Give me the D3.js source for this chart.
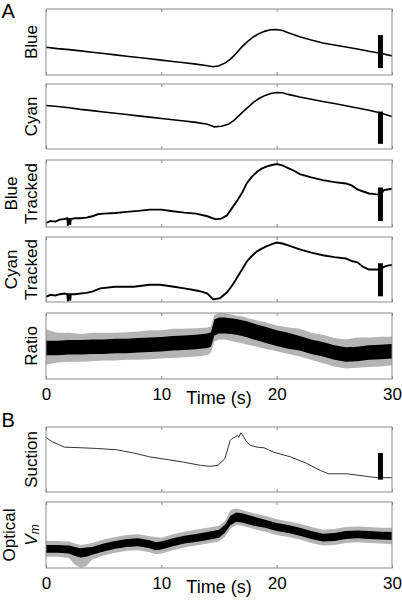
<!DOCTYPE html>
<html><head><meta charset="utf-8">
<script src="https://cdn.jsdelivr.net/npm/d3@7"></script>
<style>body{margin:0;background:#fff}svg{display:block;font-family:"Liberation Sans",Arial,sans-serif}</style>
</head><body><div id="chart"></div>
<script>
// ---- data (time in s, signals in normalised panel units 0-100) ----
const timeTicks = [0, 10, 20, 30];
const timeTickLabels = ["0", "10", "20", "30"];
const xLabel = "Time (s)";

const blueT = [0,1,2,3,4,5,6,7,8,9,10,11,12,13,14,14.5,15,15.5,16,16.5,17,17.5,18,18.5,19,19.5,20,20.5,21,22,23,24,25,26,27,28,29,30];
const blueV = [42,40,38.5,36.5,34.5,32.5,30.5,28.5,26.5,24.5,22.5,20.5,18.5,16.5,14,12.5,14,18,24,33,43,51,58,63,66.5,68.5,69,67.5,64,58,53,48.5,45.5,42.5,39.5,36,33,29];

const cyanT = [0,1,2,3,4,5,6,7,8,9,10,11,12,13,14,14.6,15.2,15.8,16.3,17,17.5,18,18.5,19,19.5,20,20.5,21,22,23,24,25,26,27,28,29,30];
const cyanV = [67,65.5,63.5,61,59,57,55,53,51,49,47,45,43,41,38,34,35,38,44,56,64,72,78,82.5,85.5,87,86.5,84,80,76.5,73,70,66.5,63,59.5,55.5,50];

const blueTrT = [0,0.4,0.8,1.2,1.6,1.85,1.9,1.95,2.05,2.1,2.15,2.5,3,3.5,4,4.5,5,6,7,8,9,10,11,12,13,14,14.7,15.2,15.7,16.2,16.6,17,17.4,17.8,18.3,18.7,19.1,19.6,20,20.5,21,21.5,22,23,24,25,26,26.5,27,27.5,28,28.5,29,29.3,29.6,30];
const blueTrV = [6,9,8,11,12,13,2,12,12,3,12,13,13,14,16,19,20,21,22.5,24,26,26,23.5,21.5,20,16,11.5,12.5,17.5,30,40,51,65,74,82.5,87,90,92.5,94,92,88,84,79,74,70,67,65,62,56,53,50,49,48,55,56,57];

const cyanTrT = [0,0.4,0.8,1.2,1.6,1.85,1.9,1.95,2.05,2.1,2.15,2.5,3,3.5,4,4.7,6,7.6,9,9.9,11.1,12,12.8,13.5,14,14.5,15.1,15.7,16.2,16.6,17,17.4,17.8,18.3,18.7,19.1,19.6,20,20.5,21,21.5,22,23,24,25,26,26.5,27,27.5,28,28.5,29,29.3,29.6,30];
const cyanTrV = [8,11,10,12,13,12,1,12,12,2,12,12,13,14,16,21,23.5,23.5,26.5,26.5,23.5,21,18.5,16,13,4,6,15,27,38.5,50,62,70,78,82,85.5,89,91.5,90,87,84,81,76,72,69,67,63,61,54,50,50,50,54,56,57];

const ratioT = [0,1,2,3,4,5,6,7,8,9,10,11,12,13,14,14.3,14.6,15,15.5,16,16.5,17,17.5,18,19,20,21,22,23,24,25,26,27,28,29,30];
const ratioMid = [47,47,48,48,49,49,50,50,51,52,52.5,54,55,56,58,60,78,81,81,80,79,77,75,72,67,62,58,54,49,45,40,37,38,40,41,42];
const ratioCore = [11,11,11,11,11,11,11,11,11,11,11,11,11,11,11,11,12,12,12,12,12,12,12,12,12,12,12,11,11,11,11,11,11,11,11,11];
const ratioHi = [75,70,70,68,70,70,70,71,72,74,74,76,76,77,78,80,97,100,100,98,96,95,92,90,86,81,78,76,70,67,62,60,63,63,64,64];
const ratioLo = [22,25,26,26,27,28,28,29,29,30,31,32,33,34,36,40,57,60,60,58,56,54,52,50,46,42,38,34,29,24,19,16,17,18,19,21];

const suctionT = [0,0.55,1.1,1.6,3.1,4.4,6.1,7.6,9,10.5,11.9,13.4,14.2,14.9,15.5,15.8,15.97,16.1,16.4,16.6,16.7,16.9,17.1,17.4,17.7,18.3,18.9,19.3,19.7,21.2,22.6,23.8,24.5,26.1,27.8,28.7,30];
const suctionV = [84,77,73,69,68,67,65,60,54,50,46,41,39.5,41,51,69,79.5,82,84.5,87,84,91,86,77,72,69,68,65,61.5,54,44,33,28,28,24,22,22];

const optT = [0,1,2,2.5,3,3.5,4,5,6,7,8,9,9.5,10,11,12,13,14,15,15.5,16,16.5,17,18,19,20,21,22,23,24,25,26,27,28,29,30];
const optMid = [29,29,28,25,23,24,26,31,35,38,39,36,33,34,39,43,45.5,48.5,52,59,72,77,76,71,67,62,59,55,50,46,47,50,51,50,49,48.5];
const optCore = [6,6,6,7,7,7,6,6,6,6,6,6,6,6,6,6,6,6,6,6,7,7,7,7,6,6,6,6,6,6,6,6,6,6,6,6];
const optHi = [41,41,40,37,35,36,38,43,47,50,51,48,47,46,51,55,58,61,64,71,88,90,88,83,79,74,71,67,62,58,59,62,63,62,61,61];
const optLo = [17,17,15,5,0,3,13,19,23,26,27,24,21,22,27,31,34,37,40,47,60,65,64,59,55,50,47,43,38,34,35,38,39,38,37,36];

// scale bars (panel units)
const barTime = 29.0;
const barLow = [10.5, 8, 9, 8.8, null, 19, null];
const barHigh = [60.5, 57.6, 59, 59.6, null, 60, null];

// ---- layout ----
const W = 402, H = 600;
const svg = d3.select("#chart").append("svg").attr("width", W).attr("height", H);
const x = d3.scaleLinear().domain([0, 30]).range([46, 392]);
const defs = svg.append("defs");

const panels = [
  {top: 9,   bot: 75,  label: ["Blue"]},
  {top: 84,  bot: 149, label: ["Cyan"]},
  {top: 160, bot: 227, label: ["Blue", "Tracked"]},
  {top: 237, bot: 302, label: ["Cyan", "Tracked"]},
  {top: 313, bot: 379, label: ["Ratio"]},
  {top: 427, bot: 492, label: ["Suction"]},
  {top: 502, bot: 568, label: ["Optical", "Vm"]}
];
panels.forEach(p => { p.y = d3.scaleLinear().domain([0, 100]).range([p.bot, p.top]); });

const frameColor = "#8a8a8a";

panels.forEach((p, i) => {
  const g = svg.append("g");
  const cid = "clip" + i;
  defs.append("clipPath").attr("id", cid).append("rect")
    .attr("x", x(0)).attr("y", p.top).attr("width", x(30) - x(0)).attr("height", p.bot - p.top);
  const dg = g.append("g").attr("clip-path", `url(#${cid})`);

  const line = (T, V) => d3.line().x((d, k) => x(T[k])).y(d => p.y(d))(V);

  if (i === 0) dg.append("path").attr("d", line(blueT, blueV)).attr("fill", "none").attr("stroke", "#000").attr("stroke-width", 1.6);
  if (i === 1) dg.append("path").attr("d", line(cyanT, cyanV)).attr("fill", "none").attr("stroke", "#000").attr("stroke-width", 1.6);
  if (i === 2) dg.append("path").attr("d", line(blueTrT, blueTrV)).attr("fill", "none").attr("stroke", "#000").attr("stroke-width", 1.9);
  if (i === 3) dg.append("path").attr("d", line(cyanTrT, cyanTrV)).attr("fill", "none").attr("stroke", "#000").attr("stroke-width", 1.9);
  if (i === 5) dg.append("path").attr("d", line(suctionT, suctionV)).attr("fill", "none").attr("stroke", "#333").attr("stroke-width", 1);
  if (i === 4 || i === 6) {
    const T = i === 4 ? ratioT : optT, M = i === 4 ? ratioMid : optMid;
    const C = i === 4 ? ratioCore : optCore;
    const HI = i === 4 ? ratioHi : optHi, LO = i === 4 ? ratioLo : optLo;
    const outer = d3.area().x((d, k) => x(T[k])).y0((d, k) => p.y(LO[k])).y1((d, k) => p.y(HI[k]))(M);
    const core = d3.area().x((d, k) => x(T[k])).y0((d, k) => p.y(M[k] - C[k])).y1((d, k) => p.y(M[k] + C[k]))(M);
    dg.append("path").attr("d", outer).attr("fill", "#444").attr("opacity", 0.4);
    dg.append("path").attr("d", core).attr("fill", "#000");
  }

  if (barLow[i] != null) {
    g.append("rect").attr("x", x(barTime) - 2.5).attr("width", 5)
      .attr("y", p.y(barHigh[i])).attr("height", p.y(barLow[i]) - p.y(barHigh[i])).attr("fill", "#000");
  }

  g.append("rect").attr("x", x(0)).attr("y", p.top).attr("width", x(30) - x(0)).attr("height", p.bot - p.top)
    .attr("fill", "none").attr("stroke", frameColor).attr("stroke-width", 1);
  const axB = d3.axisBottom(x).tickValues(timeTicks).tickSize(-3).tickFormat("");
  const axT = d3.axisTop(x).tickValues(timeTicks).tickSize(-3).tickFormat("");
  const gb = g.append("g").attr("transform", `translate(0,${p.bot})`).call(axB);
  const gt = g.append("g").attr("transform", `translate(0,${p.top})`).call(axT);
  [gb, gt].forEach(a => { a.select(".domain").remove(); a.selectAll("line").attr("stroke", frameColor); });

  const cy = (p.top + p.bot) / 2;
  if (i === 6) {
    svg.append("text").attr("transform", `translate(15,${cy}) rotate(-90)`).attr("text-anchor", "middle")
      .attr("font-size", 17).text("Optical");
    const t = svg.append("text").attr("transform", `translate(37,${cy}) rotate(-90)`).attr("text-anchor", "middle")
      .attr("font-size", 17);
    t.append("tspan").attr("font-style", "italic").text("V");
    t.append("tspan").attr("font-style", "italic").attr("font-size", 12).attr("dy", 2).text("m");
  } else if (p.label.length === 2) {
    svg.append("text").attr("transform", `translate(17,${cy}) rotate(-90)`).attr("text-anchor", "middle")
      .attr("font-size", 17).text(p.label[0]);
    svg.append("text").attr("transform", `translate(37,${cy}) rotate(-90)`).attr("text-anchor", "middle")
      .attr("font-size", 17).text(p.label[1]);
  } else {
    svg.append("text").attr("transform", `translate(37,${cy}) rotate(-90)`).attr("text-anchor", "middle")
      .attr("font-size", 17).text(p.label[0]);
  }

  if (i === 4 || i === 6) {
    const base = p.bot + 21;
    const ax = d3.axisBottom(x).tickValues(timeTicks).tickSize(0).tickPadding(0)
      .tickFormat((d, k) => timeTickLabels[k]);
    const ga = svg.append("g").attr("transform", `translate(0,${base})`).call(ax);
    ga.select(".domain").remove();
    ga.selectAll("text").attr("dy", 0).attr("font-size", 17).attr("fill", "#000")
      .attr("font-family", '"Liberation Sans",Arial,sans-serif');
    svg.append("text").attr("x", 219).attr("y", base + 3.5).attr("text-anchor", "middle")
      .attr("font-size", 18).text(xLabel);
  }
});

svg.append("text").attr("x", 1.5).attr("y", 17.5).attr("font-size", 20).text("A");
svg.append("text").attr("x", 1.5).attr("y", 426.5).attr("font-size", 20).text("B");
</script></body></html>
